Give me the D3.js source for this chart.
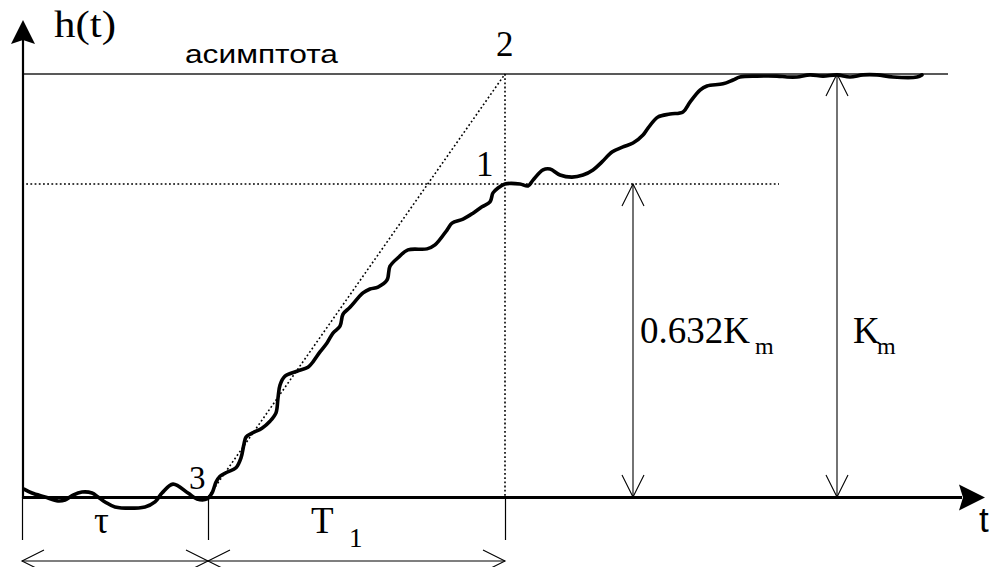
<!DOCTYPE html>
<html>
<head>
<meta charset="utf-8">
<script src="https://cdn.jsdelivr.net/npm/d3@7"></script>
<style>
  body { margin: 0; background: #fff; }
  svg { display: block; }
</style>
</head>
<body>
<svg id="chart" width="989" height="567"></svg>
<script>
// Step response h(t) of a plant with dead time, and the graphical
// construction of tau, T1 and Km.

// measured response: time and output (in units of Km)
const timeValues = [0.2, 1.0, 2.3, 3.6, 4.3, 5.1, 6.0, 7.0, 7.6, 8.3, 9.3, 12.3, 13.3, 14.0, 15.1, 16.6, 17.5, 18.5,
  19.0, 19.4, 19.8, 20.5, 21.4, 21.9, 22.2, 22.4, 23.0, 24.0, 24.8, 25.4, 25.6, 25.8, 26.3, 27.5, 28.6, 29.1,
  29.8, 30.5, 31.1, 31.8, 32.1, 32.8, 34.1, 34.8, 35.6, 36.5, 36.8, 37.6, 38.6, 40.5, 41.3, 42.5, 43.0, 44.1,
  45.1, 46.0, 46.8, 47.1, 47.6, 48.3, 49.8, 50.6, 51.1, 52.1, 52.8, 53.8, 55.0, 56.1, 57.1, 58.0, 59.0, 60.1,
  61.1, 62.1, 62.6, 63.6, 64.8, 66.1, 66.8, 67.8, 68.5, 70.1, 71.1, 71.8, 73.5, 75.5, 76.5, 77.5, 78.8, 80.1,
  81.5, 82.8, 84.1, 85.5, 87.1, 89.5, 90.0];
const responseValues = [0.016, 0.008, 0.000, -0.008, -0.006, 0.004, 0.010, 0.008, 0.000, -0.010, -0.020, -0.020,
  -0.010, 0.008, 0.026, 0.008, -0.004, -0.004, 0.008, 0.030, 0.042, 0.050, 0.059, 0.079, 0.107, 0.121, 0.129,
  0.139, 0.153, 0.170, 0.200, 0.226, 0.244, 0.254, 0.262, 0.273, 0.293, 0.311, 0.331, 0.345, 0.369, 0.383,
  0.412, 0.420, 0.424, 0.438, 0.466, 0.483, 0.499, 0.501, 0.509, 0.539, 0.553, 0.561, 0.573, 0.586, 0.596,
  0.614, 0.624, 0.632, 0.632, 0.628, 0.645, 0.679, 0.682, 0.662, 0.655, 0.662, 0.679, 0.706, 0.739, 0.756,
  0.769, 0.796, 0.819, 0.856, 0.866, 0.873, 0.906, 0.946, 0.960, 0.967, 0.980, 0.990, 0.993, 0.993, 0.990,
  0.990, 0.997, 0.993, 0.997, 0.990, 0.997, 0.997, 0.990, 0.990, 0.997];

// identified parameters
const gainKm = 1;          // asymptote
const levelShare = 0.632;  // share of Km reached at t = tau + T1
const deadTime = 18.6;     // tau
const timeConstant = 29.7; // T1

// text
const pointLabels = ["1", "2", "3"];
const asymptoteLabel = "асимптота";
const yAxisLabel = "h(t)";
const xAxisLabel = "t";

const svg = d3.select("#chart");

const x = d3.scaleLinear().domain([0, 96.3]).range([22, 985]);
// piecewise-linear h scale: the 0.632·Km band gets more room than the upper band
const y = d3.scaleLinear().domain([0, levelShare * gainKm, gainKm]).range([497, 184, 74]);

const tEnd = deadTime + timeConstant;
const x0 = x(0), y0 = y(0);
const serif = "'Liberation Serif', 'Times New Roman', serif";
const sans = "'Liberation Sans', Arial, sans-serif";

// ---- guides -------------------------------------------------------------
// asymptote
svg.append("line")
  .attr("x1", x0).attr("x2", x(92.6))
  .attr("y1", y(gainKm)).attr("y2", y(gainKm))
  .attr("stroke", "#222").attr("stroke-width", 1.4);

const dotted = g => g.attr("stroke", "#000").attr("stroke-width", 1.6)
  .attr("stroke-dasharray", "1.8,2.4").attr("fill", "none");

// 0.632 Km level
svg.append("line")
  .attr("x1", x0).attr("x2", x(75.7))
  .attr("y1", y(levelShare * gainKm)).attr("y2", y(levelShare * gainKm))
  .call(dotted);

// vertical at tau + T1
svg.append("line")
  .attr("x1", x(tEnd)).attr("x2", x(tEnd))
  .attr("y1", y(gainKm)).attr("y2", y0)
  .call(dotted);

// tangent from point 3 to point 2
svg.append("path")
  .datum([[deadTime, 0], [tEnd, gainKm]])
  .attr("d", d3.line().x(d => x(d[0])).y(d => y(d[1])))
  .call(dotted);

// ---- response curve -----------------------------------------------------
const curve = timeValues.map((t, i) => ({ t, h: responseValues[i] }));
svg.append("path")
  .datum(curve)
  .attr("fill", "none")
  .attr("stroke", "#000")
  .attr("stroke-width", 3.6)
  .attr("stroke-linejoin", "round")
  .attr("stroke-linecap", "round")
  .attr("d", d3.line().x(d => x(d.t)).y(d => y(d.h)).curve(d3.curveCatmullRom.alpha(0.5)));

// ---- axes ---------------------------------------------------------------
// tick marks below the time axis at 0, tau, tau+T1
const ticks = svg.append("g")
  .attr("transform", `translate(0,${y0})`)
  .call(d3.axisBottom(x).tickValues([0, deadTime, tEnd]).tickSize(43).tickFormat(""));
ticks.select(".domain").remove();
ticks.selectAll(".tick line").attr("stroke", "#000").attr("stroke-width", 1.2);

// y axis with filled arrow
svg.append("line")
  .attr("x1", x0 + 1).attr("x2", x0 + 1).attr("y1", y0 + 1).attr("y2", 40)
  .attr("stroke", "#000").attr("stroke-width", 2.2);
svg.append("path")
  .attr("d", `M${x0 + 1},20 L${x0 + 13},44 L${x0 + 1},40 L${x0 - 11},44 Z`)
  .attr("fill", "#000");

// t axis with filled arrow
svg.append("line")
  .attr("x1", x0).attr("x2", 962).attr("y1", y0 + 0.5).attr("y2", y0 + 0.5)
  .attr("stroke", "#000").attr("stroke-width", 3.2);
svg.append("path")
  .attr("d", `M${x(96.3)},${y0 + 0.5} L959,${y0 - 12.5} L963,${y0 + 0.5} L959,${y0 + 13.5} Z`)
  .attr("fill", "#000");

// ---- dimension arrows ---------------------------------------------------
const dim = svg.append("g").attr("stroke", "#000").attr("stroke-width", 1.1).attr("fill", "none");
function head(tx, ty, dx, dy) {
  // open V head with tip at (tx,ty) pointing along (dx,dy)
  const L = 22, W = 11;
  const px = -dy, py = dx;
  dim.append("path").attr("d",
    `M${tx - dx * L + px * W},${ty - dy * L + py * W} L${tx},${ty} L${tx - dx * L - px * W},${ty - dy * L - py * W}`);
}
function vArrow(t, hTop) {
  const xx = x(t), yt = y(hTop);
  dim.append("line").attr("x1", xx).attr("x2", xx).attr("y1", yt).attr("y2", y0);
  head(xx, yt, 0, -1);
  head(xx, y0, 0, 1);
}
function hArrow(t1, t2, yy) {
  dim.append("line").attr("x1", x(t1)).attr("x2", x(t2)).attr("y1", yy).attr("y2", yy);
  head(x(t1), yy, -1, 0);
  head(x(t2), yy, 1, 0);
}
vArrow(61.1, levelShare * gainKm);
vArrow(81.5, gainKm);
hArrow(0, deadTime, 561);
hArrow(deadTime, tEnd, 561);

// ---- text ---------------------------------------------------------------
const txt = (s, xx, yy, size, family) => svg.append("text")
  .attr("x", xx).attr("y", yy).attr("font-size", size).attr("font-family", family)
  .attr("fill", "#000").text(s);

txt(yAxisLabel, 54, 37, 37, serif).attr("textLength", 62).attr("lengthAdjust", "spacingAndGlyphs");
txt(asymptoteLabel, 185, 63, 26, sans).attr("textLength", 153).attr("lengthAdjust", "spacingAndGlyphs");
txt(pointLabels[1], x(tEnd) - 9, 56, 35, serif);
txt(pointLabels[0], x(tEnd) - 29, 176, 35, serif);
txt(pointLabels[2], x(deadTime) - 19, 489, 33, serif);
txt("τ", 94, 533, 37, serif);
txt("T", 311, 533, 37, serif);
txt("1", 349, 547, 27, serif);
txt("0.632K", 640, 343, 37, serif);
txt("m", 755, 354, 24, serif);
txt("K", 853, 343, 37, serif);
txt("m", 877, 354, 24, serif);
txt(xAxisLabel, 979, 532, 35, sans);
</script>
</body>
</html>
